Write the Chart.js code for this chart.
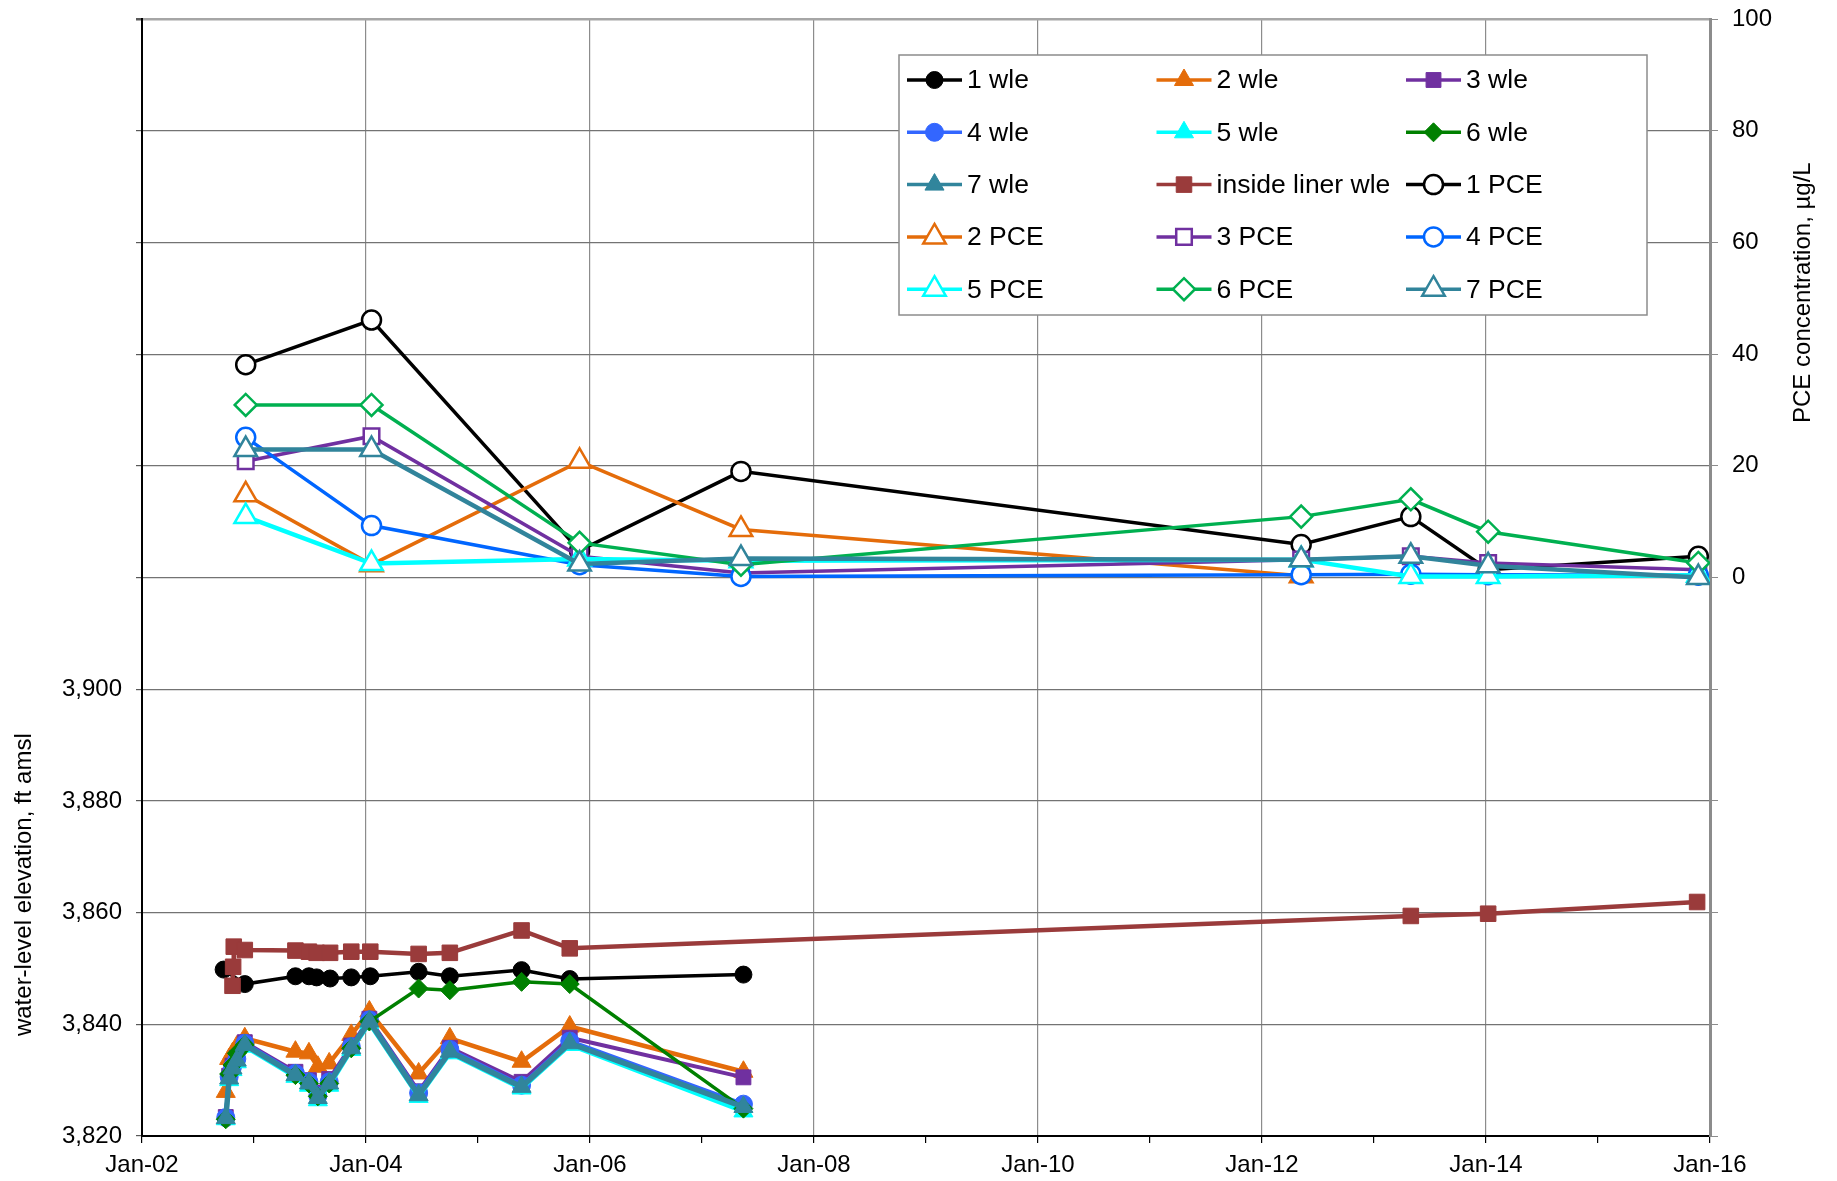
<!DOCTYPE html>
<html>
<head>
<meta charset="utf-8">
<title>Water-level elevation and PCE concentration</title>
<script src="https://cdn.jsdelivr.net/npm/chart.js@4.4.1/dist/chart.umd.min.js"></script>
<style>
  html, body { margin: 0; padding: 0; background: #fff; }
  #wrap { width: 1837px; height: 1181px; position: relative; }
</style>
</head>
<body>
<div id="wrap"><canvas id="wlChart"></canvas></div>
<script>
// sampling dates
const wleDates = ['2002-10-01', '2002-10-12', '2002-10-23', '2002-11-06', '2002-12-02',
  '2003-05-16', '2003-06-29', '2003-07-28', '2003-09-03', '2003-11-14', '2004-01-12',
  '2004-06-21', '2004-10-01', '2005-05-23', '2005-10-27', '2007-05-16'];
const well1Dates = ['2002-09-24', '2002-12-02', '2003-05-16', '2003-06-29', '2003-07-24',
  '2003-09-06', '2003-11-14', '2004-01-15', '2004-06-21', '2004-10-01', '2005-05-23',
  '2005-10-27', '2007-05-16'];
const linerDates = ['2002-10-23', '2002-10-25', '2002-10-27', '2002-12-02', '2003-05-16',
  '2003-06-29', '2003-07-24', '2003-09-06', '2003-11-14', '2004-01-15', '2004-06-21',
  '2004-10-01', '2005-05-23', '2005-10-27', '2013-05-01', '2014-01-08', '2015-11-20'];
const pceDates = ['2002-12-05', '2004-01-19', '2005-11-28', '2007-05-08',
  '2012-05-08', '2013-05-01', '2014-01-08', '2015-11-24'];

// water-level elevation, ft amsl
const wle1 = [3849.8, 3847.2, 3848.6, 3848.6, 3848.4, 3848.2, 3848.4, 3848.6, 3849.4, 3848.6, 3849.7, 3848.1, 3848.9];
const wle2 = [3827.9, 3833.8, 3834.8, 3836.0, 3837.5, 3835.1, 3834.8, 3832.4, 3833.0, 3838.1, 3842.3, 3831.2, 3837.5, 3833.3, 3839.6, 3831.5];
const wle3 = [3823.4, 3830.8, 3832.6, 3834.0, 3836.8, 3831.5, 3830.0, 3827.8, 3830.2, 3836.2, 3841.0, 3828.0, 3835.8, 3829.7, 3837.6, 3830.5];
const wle4 = [3823.3, 3830.6, 3832.4, 3833.8, 3836.6, 3831.2, 3829.7, 3827.2, 3829.7, 3836.0, 3840.8, 3827.7, 3835.5, 3829.1, 3837.0, 3825.7];
const wle5 = [3823.0, 3830.0, 3831.8, 3833.2, 3836.0, 3830.6, 3829.0, 3826.4, 3829.0, 3835.4, 3840.2, 3827.0, 3834.8, 3828.5, 3836.3, 3824.4];
const wle6 = [3823.0, 3831.1, 3832.7, 3834.8, 3836.3, 3830.9, 3829.4, 3827.1, 3829.4, 3835.7, 3840.5, 3846.4, 3846.1, 3847.6, 3847.2, 3824.9];
const wle7 = [3823.2, 3830.3, 3832.1, 3833.5, 3836.3, 3830.9, 3829.4, 3826.8, 3829.4, 3835.7, 3840.5, 3827.3, 3835.1, 3828.8, 3836.6, 3825.2];
const linerWle = [3846.9, 3850.3, 3853.9, 3853.3, 3853.2, 3853.0, 3852.8, 3852.8, 3853.0, 3853.0, 3852.6, 3852.8, 3856.8, 3853.6, 3859.4, 3859.8, 3861.9];

// PCE concentration, ug/L
const pce1 = [38.1, 46.1, 4.8, 19.0, 5.9, 10.9, 1.4, 3.8];
const pce2 = [14.8, 2.3, 20.8, 8.6, 0.3];
const pce3 = [20.8, 25.3, 3.8, 0.8, 3.2, 3.8, 2.6, 1.4];
const pce4 = [25.1, 9.3, 2.3, 0.2, 0.5, 0.6, 0.5, 0.4];
const pce5 = [10.9, 2.5, 3.3, 3.0, 3.2, 0.2, 0.2, 0.4];
const pce6 = [30.9, 30.9, 6.2, 2.3, 10.9, 14.0, 8.2, 2.6];
const pce7 = [22.9, 22.9, 2.4, 3.4, 3.2, 3.8, 2.1, 0.0];

// axis ranges and labels
const xYears = [2002, 2016];
const leftRange = [3820, 4020];
const leftLabelMax = 3900;
const rightRange = [-100, 100];

const FONT = '"Liberation Sans", Arial, sans-serif';

function decYear(s) {
    const [y, m, d] = s.split('-').map(Number);
    const start = Date.UTC(y, 0, 1);
    const end = Date.UTC(y + 1, 0, 1);
    return y + (Date.UTC(y, m - 1, d) - start) / (end - start);
}

function pts(dates, vals) {
    return vals.map((v, i) => ({ x: decYear(dates[i]), y: v }));
}

function series(label, dates, vals, axis, color, style, radius, lineWidth, open) {
    return {
        label: label,
        data: pts(dates, vals),
        yAxisID: axis,
        borderColor: color,
        backgroundColor: color,
        borderWidth: lineWidth,
        pointStyle: style,
        pointRadius: radius,
        pointHoverRadius: radius,
        pointBackgroundColor: open ? '#ffffff' : color,
        pointBorderColor: color,
        pointBorderWidth: open ? 2.5 : 1,
        tension: 0,
    };
}

const datasets = [
    series('1 wle', well1Dates, wle1, 'y', '#000000', 'circle', 8.5, 3.5, false),
    series('2 wle', wleDates, wle2, 'y', '#E46C0A', 'triangle', 11, 4.5, false),
    series('3 wle', wleDates, wle3, 'y', '#7030A0', 'rect', 10.5, 4, false),
    series('4 wle', wleDates, wle4, 'y', '#3366FF', 'circle', 9, 4, false),
    series('5 wle', wleDates, wle5, 'y', '#00FFFF', 'triangle', 11, 4.5, false),
    series('6 wle', wleDates, wle6, 'y', '#008000', 'rectRot', 9.5, 3.5, false),
    series('7 wle', wleDates, wle7, 'y', '#31859C', 'triangle', 11, 5.5, false),
    series('inside liner wle', linerDates, linerWle, 'y', '#9A3B3B', 'rect', 11, 4.5, false),
    series('1 PCE', pceDates, pce1, 'y2', '#000000', 'circle', 9.5, 3.5, true),
    series('2 PCE', pceDates, pce2, 'y2', '#E46C0A', 'triangle', 13, 3.5, true),
    series('3 PCE', pceDates, pce3, 'y2', '#7030A0', 'rect', 11, 3.5, true),
    series('4 PCE', pceDates, pce4, 'y2', '#0066FF', 'circle', 9.5, 3.5, true),
    series('5 PCE', pceDates, pce5, 'y2', '#00FFFF', 'triangle', 13, 4.5, true),
    series('6 PCE', pceDates, pce6, 'y2', '#00B050', 'rectRot', 11, 3.5, true),
    series('7 PCE', pceDates, pce7, 'y2', '#31849B', 'triangle', 13, 4.5, true),
];
// later series sit on top of earlier ones
datasets.forEach((ds, i) => { ds.order = datasets.length - i; });

// legend box with three columns inside the plot
const boxLegend = {
    id: 'boxLegend',
    afterDatasetsDraw(chart) {
        const ctx = chart.ctx;
        const area = chart.chartArea;
        const bx = area.left + 757, by = area.top + 36, bw = 748, bh = 260;
        ctx.save();
        ctx.fillStyle = '#ffffff';
        ctx.fillRect(bx, by, bw, bh);
        ctx.strokeStyle = '#8c8c8c';
        ctx.lineWidth = 1.5;
        ctx.strokeRect(bx, by, bw, bh);
        chart.data.datasets.forEach((ds, i) => {
            const col = i % 3, row = Math.floor(i / 3);
            const x0 = bx + 8 + col * 249.5;
            const cy = by + 25 + row * 52.3;
            ctx.strokeStyle = ds.borderColor;
            ctx.lineWidth = 3.5;
            ctx.beginPath();
            ctx.moveTo(x0, cy);
            ctx.lineTo(x0 + 55, cy);
            ctx.stroke();
            ctx.fillStyle = ds.pointBackgroundColor;
            ctx.strokeStyle = ds.pointBorderColor;
            ctx.lineWidth = ds.pointBorderWidth;
            Chart.helpers.drawPoint(ctx, {
                pointStyle: ds.pointStyle,
                radius: ds.pointRadius,
                rotation: 0,
                borderWidth: ds.pointBorderWidth,
            }, x0 + 27.5, cy);
            ctx.fillStyle = '#000000';
            ctx.font = '26.5px ' + FONT;
            ctx.textAlign = 'left';
            ctx.textBaseline = 'middle';
            ctx.fillText(ds.label, x0 + 60, cy + 1);
        });
        ctx.restore();
    },
};

// vertical axis titles
const axisTitles = {
    id: 'axisTitles',
    afterDraw(chart) {
        const ctx = chart.ctx;
        const yl = chart.scales.y, yr = chart.scales.y2;
        ctx.save();
        ctx.fillStyle = '#000000';
        ctx.font = '24px ' + FONT;
        ctx.textAlign = 'center';
        ctx.textBaseline = 'middle';
        ctx.translate(24, yl.getPixelForValue(3865));
        ctx.rotate(-Math.PI / 2);
        ctx.fillText('water-level elevation, ft amsl', 0, 0);
        ctx.restore();
        ctx.save();
        ctx.fillStyle = '#000000';
        ctx.font = '24px ' + FONT;
        ctx.textAlign = 'center';
        ctx.textBaseline = 'middle';
        ctx.translate(1803, yr.getPixelForValue(51));
        ctx.rotate(-Math.PI / 2);
        ctx.fillText('PCE concentration, µg/L', 0, 0);
        ctx.restore();
    },
};

// fixed axis sizes so the plot area keeps its place
function fixWidth(w) {
    return (s) => { s.width = w; s.paddingTop = 0; s.paddingBottom = 0; };
}

Chart.defaults.font.family = FONT;
Chart.defaults.font.size = 24;
Chart.defaults.color = '#000000';

new Chart(document.getElementById('wlChart'), {
    type: 'line',
    data: { datasets: datasets },
    options: {
        responsive: true,
        maintainAspectRatio: false,
        animation: false,
        devicePixelRatio: 1,
        layout: { padding: { top: 19, left: 0, right: 0, bottom: 0 } },
        plugins: {
            legend: { display: false },
            tooltip: { enabled: false },
        },
        scales: {
            x: {
                type: 'linear',
                min: xYears[0],
                max: xYears[1],
                border: { color: '#000000', width: 2 },
                grid: {
                    color: (c) => (c.tick && c.tick.value % 2 === 0 ? '#8c8c8c' : 'rgba(0,0,0,0)'),
                    lineWidth: 1.2,
                    tickColor: '#000000',
                    tickLength: 7,
                },
                ticks: {
                    stepSize: 1,
                    autoSkip: false,
                    maxRotation: 0,
                    padding: 8,
                    callback: (v) => (v % 2 === 0 ? 'Jan-' + String(v).slice(2) : ''),
                },
                afterFit: (s) => { s.height = 45; s.paddingLeft = 0; s.paddingRight = 0; },
            },
            y: {
                position: 'left',
                min: leftRange[0],
                max: leftRange[1],
                border: { color: '#000000', width: 2 },
                grid: {
                    color: (c) => (c.tick && c.tick.value === leftRange[1] ? '#a6a6a6' : '#737373'),
                    lineWidth: (c) => (c.tick && c.tick.value === leftRange[1] ? 2.5 : 1.2),
                    tickColor: '#595959',
                    tickLength: 6,
                },
                ticks: {
                    stepSize: 20,
                    autoSkip: false,
                    padding: 14,
                    callback: (v) => (v <= leftLabelMax ? v.toLocaleString('en-US') : ''),
                },
                afterFit: fixWidth(142),
            },
            y2: {
                position: 'right',
                min: rightRange[0],
                max: rightRange[1],
                border: { color: '#8c8c8c', width: 3 },
                grid: {
                    drawOnChartArea: false,
                    tickColor: '#8c8c8c',
                    tickLength: 8,
                },
                ticks: {
                    stepSize: 20,
                    autoSkip: false,
                    padding: 14,
                    callback: (v) => (v >= 0 ? String(v) : ''),
                },
                afterFit: fixWidth(127),
            },
        },
    },
    plugins: [boxLegend, axisTitles],
});
</script>
</body>
</html>
